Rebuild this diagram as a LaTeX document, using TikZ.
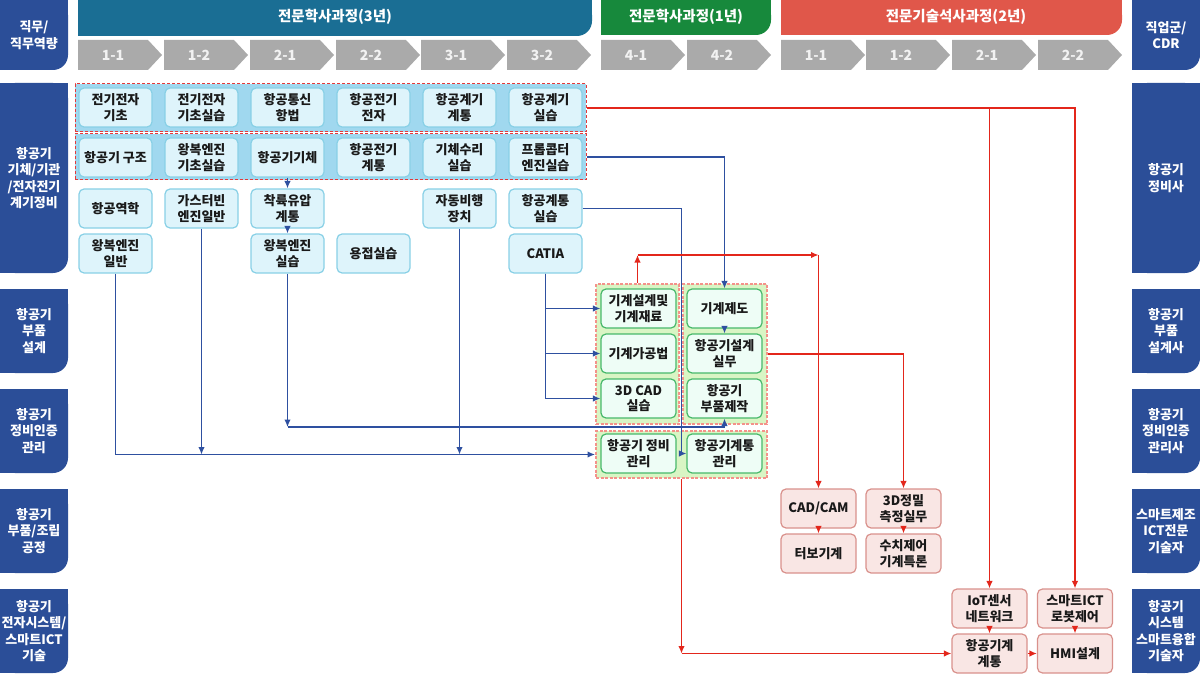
\documentclass[tikz,border=0pt]{standalone}
\usepackage{fontspec}
\setmainfont{Noto Sans CJK KR}
\usetikzlibrary{arrows.meta}
\definecolor{tabblue}{HTML}{2B4E98}
\definecolor{hdblue}{HTML}{1A6E94}
\definecolor{hdgreen}{HTML}{17893C}
\definecolor{hdred}{HTML}{E0574A}
\definecolor{chev}{HTML}{AAAAAA}
\definecolor{grpblue}{HTML}{A0D8EF}
\definecolor{grpred}{HTML}{E5393A}
\definecolor{boxfill}{HTML}{DEF4FB}
\definecolor{boxbd}{HTML}{88D0E6}
\definecolor{grpgreen}{HTML}{D9F5C4}
\definecolor{grpsalmon}{HTML}{F4928A}
\definecolor{gboxfill}{HTML}{EEFDF6}
\definecolor{gboxbd}{HTML}{47B86A}
\definecolor{pboxfill}{HTML}{F9E6E4}
\definecolor{pboxbd}{HTML}{D9918C}
\definecolor{redline}{HTML}{E3261B}
\definecolor{blueline}{HTML}{2E50A0}
\newcommand\boxfont{\fontsize{13}{15.5}\selectfont\bfseries\color{black!90}}
\newcommand\tabfont{\fontsize{13}{16.5}\selectfont\bfseries\color{white}}
\newcommand\mytab[5]{%
  \fill[#5,rounded corners=15pt] (#1,#2) rectangle (#3,#4);
  \fill[#5] (#1,#2) rectangle (#3,{#4-18});
  \fill[#5] (#1,#2) rectangle ({#3-18},#4);
}
\newcommand\mychev[3]{%
  \fill[chev] (#1,40) -- ({#1+70},40) -- ({#1+84},55) -- ({#1+70},70) -- (#1,70) -- cycle;
  \node[chevtext] (#3) at ({#1+35},55) {#2};
}
\tikzset{
  bbox/.style={draw=boxbd, fill=boxfill, line width=1.2pt, rounded corners=5pt,
    minimum width=73pt, minimum height=39pt, align=center, inner sep=0pt, font=\boxfont},
  gbox/.style={bbox, draw=gboxbd, fill=gboxfill, minimum width=75pt},
  pbox/.style={bbox, draw=pboxbd, fill=pboxfill, minimum width=75pt},
  rgrp/.style={draw=grpred, fill=grpblue, line width=1pt, dash pattern=on 3pt off 2pt, inner sep=0pt},
  ggrp/.style={draw=grpsalmon, fill=grpgreen, line width=2pt, dash pattern=on 3pt off 1.5pt, inner sep=0pt},
  tablabel/.style={align=center, font=\tabfont, inner sep=0pt},
  hdtext/.style={font=\fontsize{14.5}{16}\selectfont\bfseries\color{white}, inner sep=0pt},
  chevtext/.style={font=\fontsize{14}{16}\selectfont\bfseries\color{white!95!black}, inner sep=0pt},
  rl/.style={draw=redline, line width=1.3pt, -{Latex[length=7.5pt,width=6.5pt]}},
  bl/.style={draw=blueline, line width=1.3pt, -{Latex[length=7.5pt,width=6.5pt]}},
}
\begin{document}
\begin{tikzpicture}[x=1pt,y=-1pt]
\useasboundingbox (0,0) rectangle (1200,698);
% ---- left / right tabs
\mytab{0}{0}{68}{70}{tabblue}
\node[tablabel] (L0) at (34,35) {직무/\\직무역량};
\mytab{1132}{0}{1200}{70}{tabblue}
\node[tablabel] (R0) at (1166,35) {직업군/\\CDR};
\mytab{0}{83}{68}{273}{tabblue}
\node[tablabel] (L1) at (34,178) {항공기\\기체/기관\\/전자전기\\계기정비};
\mytab{1132}{83}{1200}{273}{tabblue}
\node[tablabel] (R1) at (1166,178) {항공기\\정비사};
\mytab{0}{289}{68}{373}{tabblue}
\node[tablabel] (L2) at (34,331) {항공기\\부품\\설계};
\mytab{1132}{289}{1200}{373}{tabblue}
\node[tablabel] (R2) at (1166,331) {항공기\\부품\\설계사};
\mytab{0}{389}{68}{473}{tabblue}
\node[tablabel] (L3) at (34,431) {항공기\\정비인증\\관리};
\mytab{1132}{389}{1200}{473}{tabblue}
\node[tablabel] (R3) at (1166,431) {항공기\\정비인증\\관리사};
\mytab{0}{489}{68}{573}{tabblue}
\node[tablabel] (L4) at (34,531) {항공기\\부품/조립\\공정};
\mytab{1132}{489}{1200}{573}{tabblue}
\node[tablabel] (R4) at (1166,531) {스마트제조\\ICT전문\\기술자};
\mytab{0}{589}{68}{673}{tabblue}
\node[tablabel] (L5) at (34,631) {항공기\\전자시스템/\\스마트ICT\\기술};
\mytab{1132}{589}{1200}{673}{tabblue}
\node[tablabel] (R5) at (1166,631) {항공기\\시스템\\스마트융합\\기술자};
% ---- header bars
\mytab{78}{0}{592}{36}{hdblue}
\node[hdtext] (H1) at (335,17) {전문학사과정(3년)};
\mytab{601}{0}{771}{35}{hdgreen}
\node[hdtext] (H2) at (686,17) {전문학사과정(1년)};
\mytab{781}{0}{1122}{35}{hdred}
\node[hdtext] (H3) at (956,17) {전문기술석사과정(2년)};
% ---- semester chevrons
\mychev{78}{1-1}{s1}
\mychev{164}{1-2}{s2}
\mychev{250}{2-1}{s3}
\mychev{336}{2-2}{s4}
\mychev{421}{3-1}{s5}
\mychev{507}{3-2}{s6}
\mychev{601}{4-1}{s7}
\mychev{687}{4-2}{s8}
\mychev{781}{1-1}{s9}
\mychev{866}{1-2}{s10}
\mychev{952}{2-1}{s11}
\mychev{1038}{2-2}{s12}
% ---- groups
\node[rgrp, minimum width=511pt, minimum height=48pt] (g1) at (330.5,108) {};
\node[rgrp, minimum width=511pt, minimum height=46pt] (g2) at (330.5,157) {};
\node[ggrp, minimum width=83pt, minimum height=140pt] (gl) at (637.5,354) {};
\node[ggrp, minimum width=84pt, minimum height=140pt] (gr) at (725,354) {};
\node[ggrp, minimum width=171pt, minimum height=47pt] (gb) at (681.5,454.5) {};
% ---- blue boxes
\node[bbox] (n11) at (115.5,107.5) {전기전자\\기초};
\node[bbox] (n12) at (201.5,107.5) {전기전자\\기초실습};
\node[bbox] (n13) at (287.5,107.5) {항공통신\\항법};
\node[bbox] (n14) at (373.5,107.5) {항공전기\\전자};
\node[bbox] (n15) at (459.5,107.5) {항공계기\\계통};
\node[bbox] (n16) at (545.5,107.5) {항공계기\\실습};
\node[bbox] (n21) at (115.5,157.5) {항공기 구조};
\node[bbox] (n22) at (201.5,157.5) {왕복엔진\\기초실습};
\node[bbox] (n23) at (287.5,157.5) {항공기기체};
\node[bbox] (n24) at (373.5,157.5) {항공전기\\계통};
\node[bbox] (n25) at (459.5,157.5) {기체수리\\실습};
\node[bbox] (n26) at (545.5,157.5) {프롭콥터\\엔진실습};
\node[bbox] (n31) at (115.5,208.5) {항공역학};
\node[bbox] (n32) at (201.5,208.5) {가스터빈\\엔진일반};
\node[bbox] (n33) at (287.5,208.5) {착륙유압\\계통};
\node[bbox] (n35) at (459.5,208.5) {자동비행\\장치};
\node[bbox] (n36) at (545.5,208.5) {항공계통\\실습};
\node[bbox] (n41) at (115.5,253.5) {왕복엔진\\일반};
\node[bbox] (n43) at (287.5,253.5) {왕복엔진\\실습};
\node[bbox] (n44) at (373.5,253.5) {용접실습};
\node[bbox] (n46) at (545.5,253.5) {CATIA};
% ---- green boxes
\node[gbox] (m1) at (638.5,308.5) {기계설계및\\기계재료};
\node[gbox] (m2) at (638.5,353.5) {기계가공법};
\node[gbox] (m3) at (638.5,398.5) {3D CAD\\실습};
\node[gbox] (d1) at (724.5,308.5) {기계제도};
\node[gbox] (d2) at (724.5,353.5) {항공기설계\\실무};
\node[gbox] (d3) at (724.5,398.5) {항공기\\부품제작};
\node[gbox] (q1) at (638.5,453.5) {항공기 정비\\관리};
\node[gbox] (q2) at (724.5,453.5) {항공기계통\\관리};
% ---- pink boxes
\node[pbox] (p1) at (818.5,508.5) {CAD/CAM};
\node[pbox] (p2) at (818.5,553.5) {터보기계};
\node[pbox] (p3) at (903.5,508.5) {3D정밀\\측정실무};
\node[pbox] (p4) at (903.5,553.5) {수치제어\\기계특론};
\node[pbox] (p5) at (989.5,608.5) {IoT센서\\네트워크};
\node[pbox] (p6) at (989.5,653.5) {항공기계\\계통};
\node[pbox] (p7) at (1075,608.5) {스마트ICT\\로봇제어};
\node[pbox] (p8) at (1075,653.5) {HMI설계};
% ---- coordinates
\coordinate (rA) at (637.5,255);
\coordinate (rB) at (818.5,255);
\coordinate (rC) at (681.5,653.5);
\coordinate (bC) at (287.5,427);
\coordinate (bD) at (681.5,453.5);
% ---- blue connectors
\draw[bl] (n23.south) -- (n33.north);
\draw[bl] (n33.south) -- (n43.north);
\draw[bl] (n43.south) -- (bC);
\draw[bl] (bC) -| (d3.south);
\draw[bl] (n41.south) |- (gb.west);
\draw[bl] (n32.south) -- (n32.south |- gb.west);
\draw[bl] (n35.south) -- (n35.south |- gb.west);
\draw[bl] (n46.south) |- (m1.west);
\draw[bl] (n46.south) |- (m2.west);
\draw[bl] (n46.south) |- (m3.west);
\draw[bl] (g2.east) -| (d1.north);
\draw[bl] (n36.east) -| (bD) -- (q2.west);
\draw[bl] (d1.south) -- (d2.north);
% ---- red connectors
\draw[rl] (g1.east) -| (p7.north);
\draw[rl] (g1.east -| p5.north) -- (p5.north);
\draw[rl] (gl.north) -- (rA);
\draw[rl] (rA) -- (rB);
\draw[rl] (rB) -- (p1.north);
\draw[rl] (gr.east) -| (p3.north);
\draw[rl] (gb.south) -- (rC);
\draw[rl] (rC) -- (p6.west);
\draw[rl] (p1.south) -- (p2.north);
\draw[rl] (p3.south) -- (p4.north);
\draw[rl] (p5.south) -- (p6.north);
\draw[rl] (p7.south) -- (p8.north);
\draw[rl] (p6.east) -- (p8.west);
\end{tikzpicture}
\end{document}
